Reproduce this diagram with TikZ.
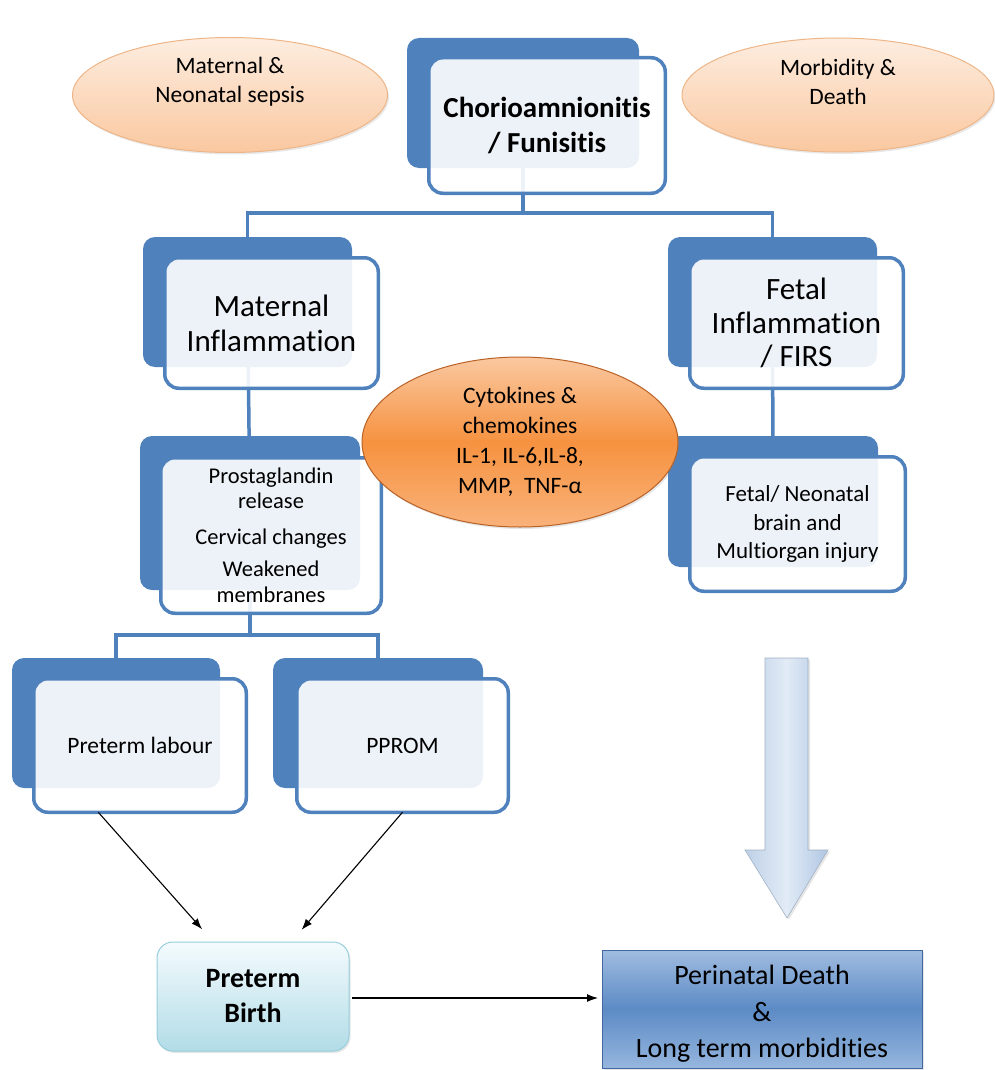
\documentclass[tikz,border=0pt]{standalone}
\usepackage{fontspec}
\setmainfont{Carlito}[RawFeature={-liga;-clig;-calt;-dlig}]
\usetikzlibrary{shapes.geometric,arrows.meta,shadows,backgrounds}

% break the t-i joins of the font inside words
\newcommand\tsep{\kern0pt }

\definecolor{boxblue}{RGB}{79,129,189}
\definecolor{peachtop}{RGB}{253,237,224}
\definecolor{peachbot}{RGB}{250,200,160}
\definecolor{peachedge}{RGB}{238,182,136}
\definecolor{orangetop}{RGB}{250,200,160}
\definecolor{orangemid}{RGB}{246,146,64}
\definecolor{orangebot}{RGB}{249,178,122}
\definecolor{orangeedge}{RGB}{186,98,38}
\definecolor{cyantop}{RGB}{244,251,253}
\definecolor{cyanbot}{RGB}{178,220,231}
\definecolor{cyanedge}{RGB}{150,205,220}
\definecolor{slatetop}{RGB}{160,188,224}
\definecolor{slatemid}{RGB}{92,139,197}
\definecolor{slatebot}{RGB}{150,182,222}
\definecolor{slateedge}{RGB}{66,104,162}
\definecolor{arrowL}{RGB}{190,208,231}
\definecolor{arrowM}{RGB}{226,235,246}
\definecolor{arrowR}{RGB}{176,198,227}

\begin{document}
\begin{tikzpicture}[x=1pt,y=-1pt,
  every node/.style={inner sep=0pt, outer sep=0pt},
  backbox/.style={fill=boxblue, rounded corners=12pt},
  frontbox/.style={draw=boxblue, line width=3.5pt, fill=white, fill opacity=0.9,
                   text opacity=1, rounded corners=14pt, align=center},
  link/.style={draw=boxblue, line width=3.5pt},
  oval/.style={ellipse, draw=peachedge, line width=1pt, top color=peachtop,
               bottom color=peachbot,
               drop shadow={opacity=0.18, shadow xshift=1.5pt, shadow yshift=-2pt}},
  arr/.style={-{Latex[length=11pt,width=8pt]}, line width=1.1pt, black},
  bigtxt/.style={font=\fontsize{31}{35}\selectfont},
  midtxt/.style={font=\fontsize{23.5}{29}\selectfont},
]
\useasboundingbox (0,0) rectangle (994,1070);

% outcome ovals at the top
\node[oval, minimum width=315pt, minimum height=115pt,
      label={[midtxt, align=center, yshift=13pt]center:Maternal \&\\Neonatal sepsis}]
      (sepsis) at (230,95) {};
\node[oval, minimum width=312pt, minimum height=114pt,
      label={[midtxt, align=center, yshift=13pt]center:Morbidity \&\\Death}]
      (death) at (838,95) {};

% back plates
\node[backbox, minimum width=232pt, minimum height=130pt] (chorioB) at (523,103) {};
\node[backbox, minimum width=209pt, minimum height=130pt] (matB) at (247.5,302) {};
\node[backbox, minimum width=209pt, minimum height=130pt] (fetB) at (772.5,302) {};
\node[backbox, minimum width=220pt, minimum height=154pt] (proB) at (250,513) {};
\node[backbox, minimum width=210pt, minimum height=131pt] (neoB) at (773,501.5) {};
\node[backbox, minimum width=208pt, minimum height=130pt] (plB) at (116,723) {};
\node[backbox, minimum width=210pt, minimum height=130pt] (ppB) at (378,723) {};

% elbow connectors, kept beneath the plates
\begin{scope}[on background layer]
\path[link] (chorioB.center) -- (chorioB.center |- 0,213) -| (matB.center);
\path[link] (chorioB.center |- 0,213) -| (fetB.center);
\path[link] (matB.center) -- (proB.center);
\path[link] (fetB.center) -- (neoB.center);
\path[link] (proB.center) -- (proB.center |- 0,635) -| (plB.center);
\path[link] (proB.center |- 0,635) -| (ppB.center);
\end{scope}

% front cards
\node[frontbox, minimum width=236.5pt, minimum height=135.5pt,
      font=\fontsize{29}{35}\selectfont\bfseries] (chorioF) at (547,125.5)
      {Chorioamnionit\tsep is\\/ Funisit\tsep is};
\node[frontbox, minimum width=213.5pt, minimum height=130.5pt, bigtxt] (matF) at (271.5,323)
      {Maternal\\Inflammat\tsep ion};
\node[frontbox, minimum width=213.5pt, minimum height=130.5pt,
      font=\fontsize{31}{33.5}\selectfont] (fetF) at (796.5,323)
      {Fetal\\Inflammat\tsep ion\\/ FIRS};
\node[frontbox, minimum width=220.5pt, minimum height=155.5pt,
      font=\fontsize{22.5}{25}\selectfont] (proF) at (271,535.5)
      {Prostaglandin\\release\\[11pt]Cervical changes\\[7pt]Weakened\\[1pt]membranes};
\node[frontbox, minimum width=215.5pt, minimum height=134.5pt,
      font=\fontsize{23}{28.5}\selectfont] (neoF) at (797.5,524)
      {Fetal/ Neonatal\\brain and\\Mult\tsep iorgan injury};
\node[frontbox, minimum width=212.5pt, minimum height=133.5pt, midtxt] (plF) at (140,745.5)
      {Preterm labour};
\node[frontbox, minimum width=211.5pt, minimum height=133.5pt, midtxt] (ppF) at (402.5,745.5)
      {PPROM};

% mediator oval in the middle
\node[ellipse, draw=orangeedge, line width=1pt, top color=orangetop, bottom color=orangebot,
      middle color=orangemid, minimum width=316pt, minimum height=170pt, align=center,
      font=\fontsize{23.5}{30}\selectfont,
      drop shadow={opacity=0.2, shadow xshift=1.5pt, shadow yshift=-2pt}] (cyto) at (520,442)
      {Cytokines \&\\chemokines\\IL-1, IL-6,IL-8,\\MMP, \ TNF-α};

% outcomes at the bottom
\node[draw=cyanedge, line width=1pt, rounded corners=16pt, top color=cyantop,
      bottom color=cyanbot, minimum width=192pt, minimum height=109pt, align=center,
      font=\fontsize{28}{35}\selectfont\bfseries,
      drop shadow={opacity=0.2, shadow xshift=1.5pt, shadow yshift=-2pt}] (birth) at (253,996.5)
      {Preterm\\Birth};
\node[draw=slateedge, line width=1pt, top color=slatetop, bottom color=slatebot,
      middle color=slatemid, minimum width=320pt, minimum height=118pt,
      drop shadow={opacity=0.2, shadow xshift=1.5pt, shadow yshift=-2pt},
      label={[align=center, font=\fontsize{28}{36.5}\selectfont, yshift=-5pt]center:%
        Perinatal Death\\\&\\Long term morbidit\tsep ies}] (peri) at (762,1009) {};

% wide downward arrow
\path[left color=arrowL, right color=arrowR, middle color=arrowM, draw=arrowL!85!black,
      line width=0.6pt, drop shadow={opacity=0.2, shadow xshift=2pt, shadow yshift=-1.5pt}]
  (765,658) -- (808,658) -- (808,850) -- (828,850) -- (787,918) -- (745,850) -- (765,850) -- cycle;

% thin arrows
\draw[arr, shorten >=17pt] (plF.238.5) -- (birth.126);
\draw[arr, shorten >=16pt] (ppF.south) -- (birth.55.5);
\draw[arr, shorten <=3pt, shorten >=4pt] (birth.east |- 0,998) -- (peri.west |- 0,998);
\end{tikzpicture}
\end{document}
